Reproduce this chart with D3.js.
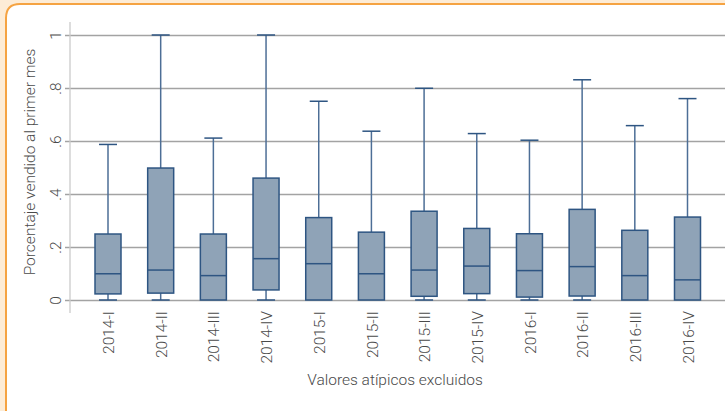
<!DOCTYPE html>
<html>
<head>
<meta charset="utf-8">
<script src="https://cdn.jsdelivr.net/npm/d3@7"></script>
<style>
  html, body { margin: 0; padding: 0; background: #fdecd6; }
  svg { display: block; }
  text { font-family: Roboto, "Noto Sans", sans-serif; font-weight: 300; fill: #4a4a4a; }
</style>
</head>
<body>
<svg id="chart" width="725" height="411"></svg>
<script>
// Quarterly periods
const periods = ["2014-I","2014-II","2014-III","2014-IV","2015-I","2015-II","2015-III","2015-IV","2016-I","2016-II","2016-III","2016-IV"];
// Box-plot statistics per period (share sold in the first month)
const whiskerLow  = [0, 0, 0, 0, 0, 0, 0, 0, 0, 0, 0, 0];
const q1          = [0.023, 0.026, 0, 0.038, 0, 0, 0.014, 0.024, 0.011, 0.015, 0, 0];
const median      = [0.099, 0.113, 0.092, 0.156, 0.137, 0.099, 0.113, 0.128, 0.111, 0.126, 0.092, 0.076];
const q3          = [0.249, 0.498, 0.249, 0.460, 0.311, 0.256, 0.335, 0.270, 0.250, 0.342, 0.263, 0.313];
const whiskerHigh = [0.587, 1.0, 0.611, 1.0, 0.750, 0.637, 0.799, 0.628, 0.603, 0.831, 0.658, 0.760];
const yTicks = [0, 0.2, 0.4, 0.6, 0.8, 1];
const yTickLabels = ["0", ".2", ".4", ".6", ".8", "1"];

const svg = d3.select("#chart");

// Panel with orange border
svg.append("path")
  .attr("d", "M6,420 L6,18 Q6,4 20,4 L740,4 L740,420")
  .attr("fill", "#ffffff")
  .attr("stroke", "#f5a342")
  .attr("stroke-width", 2);

const x = d3.scalePoint().domain(periods).range([108, 687.5]);
const y = d3.scaleLinear().domain([0, 1]).range([300, 35]);

// Gridlines + y ticks
const yAxis = d3.axisLeft(y)
  .tickValues(yTicks)
  .tickFormat((d, i) => yTickLabels[i])
  .tickSize(-(725 - 70))
  .tickSizeOuter(0);

const gy = svg.append("g").attr("transform", "translate(70,0)").call(yAxis);
gy.select(".domain").remove();
gy.selectAll(".tick line")
  .attr("x1", -5)
  .attr("stroke", "#a3a3a3")
  .attr("stroke-width", 1.3);
gy.selectAll(".tick text")
  .attr("font-size", 15.5)
  .attr("fill", "#4a4a4a")
  .attr("text-anchor", "middle")
  .attr("x", null)
  .attr("dy", null)
  .attr("transform", "translate(-9,0) rotate(-90)");

// Y axis line
svg.append("line")
  .attr("x1", 70).attr("x2", 70)
  .attr("y1", 22).attr("y2", 313)
  .attr("stroke", "#cbcbcb")
  .attr("stroke-width", 1.3);

// X axis labels
const xAxis = d3.axisBottom(x).tickSize(0).tickPadding(0);
const gx = svg.append("g").attr("transform", "translate(0,300)").call(xAxis);
gx.select(".domain").remove();
gx.selectAll(".tick text")
  .attr("font-size", 15.5)
  .attr("fill", "#4a4a4a")
  .attr("text-anchor", "end")
  .attr("y", 0)
  .attr("dy", "0.36em")
  .attr("transform", "translate(0,11) rotate(-90)");

// Box plots
const boxW = 26, capW = 18;
const boxColor = "#8fa3b7", edgeColor = "#2e5582", whiskerColor = "#4d6e96";
const g = svg.append("g");
periods.forEach((p, i) => {
  const cx = x(p);
  // upper whisker
  g.append("line")
    .attr("x1", cx).attr("x2", cx)
    .attr("y1", y(q3[i])).attr("y2", y(whiskerHigh[i]))
    .attr("stroke", whiskerColor).attr("stroke-width", 1.5);
  g.append("line")
    .attr("x1", cx - capW / 2).attr("x2", cx + capW / 2)
    .attr("y1", y(whiskerHigh[i])).attr("y2", y(whiskerHigh[i]))
    .attr("stroke", edgeColor).attr("stroke-width", 1.5);
  // lower whisker
  if (q1[i] > whiskerLow[i]) {
    g.append("line")
      .attr("x1", cx).attr("x2", cx)
      .attr("y1", y(whiskerLow[i])).attr("y2", y(q1[i]))
      .attr("stroke", whiskerColor).attr("stroke-width", 1.5);
    g.append("line")
      .attr("x1", cx - capW / 2).attr("x2", cx + capW / 2)
      .attr("y1", y(whiskerLow[i])).attr("y2", y(whiskerLow[i]))
      .attr("stroke", edgeColor).attr("stroke-width", 1.5);
  }
  // box
  g.append("rect")
    .attr("x", cx - boxW / 2).attr("width", boxW)
    .attr("y", y(q3[i])).attr("height", y(q1[i]) - y(q3[i]))
    .attr("fill", boxColor).attr("stroke", edgeColor).attr("stroke-width", 1.5);
  // median
  g.append("line")
    .attr("x1", cx - boxW / 2).attr("x2", cx + boxW / 2)
    .attr("y1", y(median[i])).attr("y2", y(median[i]))
    .attr("stroke", edgeColor).attr("stroke-width", 1.5);
});

// Axis titles
svg.append("text")
  .attr("transform", "translate(35,162) rotate(-90)")
  .attr("text-anchor", "middle")
  .attr("font-size", 15.5)
  .text("Porcentaje vendido al primer mes");

svg.append("text")
  .attr("x", 395).attr("y", 385)
  .attr("text-anchor", "middle")
  .attr("font-size", 15.5)
  .text("Valores atípicos excluidos");
</script>
</body>
</html>
